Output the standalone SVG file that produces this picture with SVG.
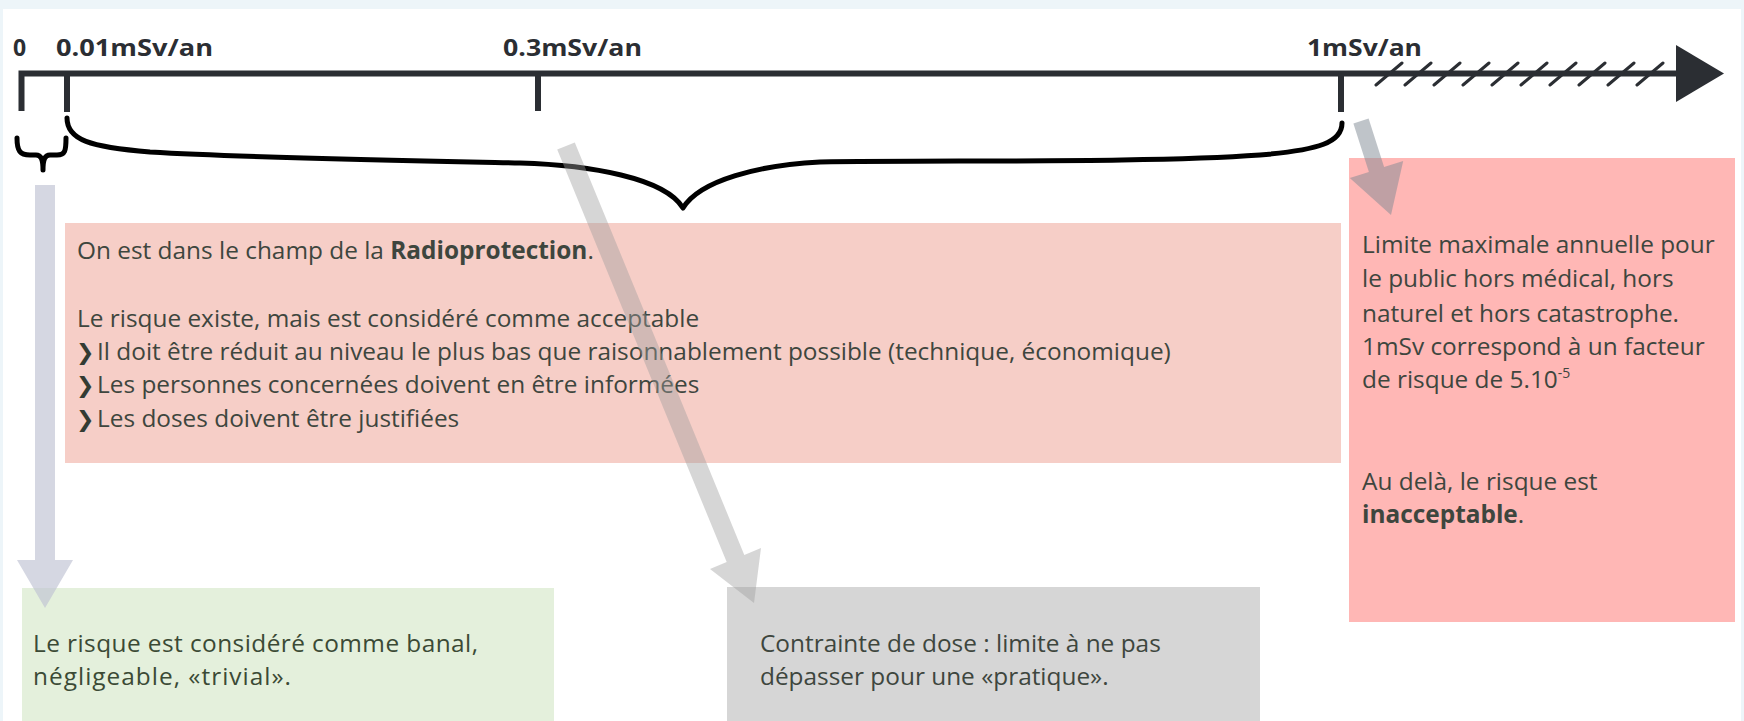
<svg xmlns="http://www.w3.org/2000/svg" width="1744" height="721" viewBox="0 0 1744 721">
<style>
.body{font-family:"Open Sans","Liberation Sans",sans-serif;font-size:24.4px;fill:#3e463e}
.b{font-weight:bold}
.lbl{font-family:"Open Sans","Liberation Sans",sans-serif;font-size:23px;font-weight:bold;fill:#2b2e33}
.bul{font-family:"DejaVu Sans",sans-serif;font-size:22px;font-weight:bold;fill:#333b33}
.axis{stroke:#2b2e33;fill:none}
.brace{stroke:#000;fill:none;stroke-width:5;stroke-linecap:round;stroke-linejoin:round}
</style>
<rect width="1744" height="721" fill="#ffffff"/>
<rect x="0" y="0" width="1744" height="9" fill="#edf5f9"/>
<rect x="0" y="0" width="3" height="721" fill="#edf5f9"/>
<rect x="1741" y="0" width="3" height="721" fill="#edf5f9"/>

<g id="axis">
  <path class="axis" stroke-width="6" d="M21.5,111 V73.5 H1680"/>
  <path class="axis" stroke-width="6" d="M67,73.5 V112 M538,73.5 V111 M1341,73.5 V112"/>
  <polygon points="1676,45 1724,73.5 1676,102" fill="#2b2e33"/>
  <g class="axis" stroke-width="3" stroke-linecap="round">
    <path d="M1376,85 L1402,63 M1405,85 L1431,63 M1434,85 L1460,63 M1463,85 L1489,63 M1492,85 L1518,63 M1521,85 L1547,63 M1550,85 L1576,63 M1579,85 L1605,63 M1608,85 L1634,63 M1637,85 L1663,63"/>
  </g>
  <text class="lbl" x="13" y="56">0</text>
  <text class="lbl" x="56" y="56" textLength="157" lengthAdjust="spacingAndGlyphs">0.01mSv/an</text>
  <text class="lbl" x="503" y="56" textLength="139" lengthAdjust="spacingAndGlyphs">0.3mSv/an</text>
  <text class="lbl" x="1307" y="56" textLength="115" lengthAdjust="spacingAndGlyphs">1mSv/an</text>
</g>

<g id="box-radioprotection">
  <rect x="65" y="223" width="1276" height="240" fill="#f6cec7"/>
  <text class="body" x="77" y="259">On est dans le champ de la <tspan class="b">Radioprotection</tspan>.</text>
  <text class="body" x="77" y="327">Le risque existe, mais est considéré comme acceptable</text>
  <text class="bul" x="76" y="360">❯</text>
  <text class="body" x="97" y="360">Il doit être réduit au niveau le plus bas que raisonnablement possible (technique, économique)</text>
  <text class="bul" x="76" y="393">❯</text>
  <text class="body" x="97" y="393">Les personnes concernées doivent en être informées</text>
  <text class="bul" x="76" y="427">❯</text>
  <text class="body" x="97" y="427">Les doses doivent être justifiées</text>
</g>

<g id="box-limite">
  <rect x="1349" y="158" width="386" height="464" fill="#ffb7b5"/>
  <text class="body" x="1362" y="253">Limite maximale annuelle pour</text>
  <text class="body" x="1362" y="287">le public hors médical, hors</text>
  <text class="body" x="1362" y="322">naturel et hors catastrophe.</text>
  <text class="body" x="1362" y="355">1mSv correspond à un facteur</text>
  <text class="body" x="1362" y="388">de risque de 5.10<tspan font-size="14" dy="-10">-5</tspan></text>
  <text class="body" x="1362" y="490">Au delà, le risque est</text>
  <text class="body" x="1362" y="523"><tspan class="b">inacceptable</tspan>.</text>
</g>

<g id="box-trivial">
  <rect x="22" y="588" width="532" height="133" fill="#e4f0dc"/>
  <text class="body" x="33" y="652" style="fill:#3b4a35" textLength="445">Le risque est considéré comme banal,</text>
  <text class="body" x="33" y="685" style="fill:#3b4a35" textLength="258">négligeable, «trivial».</text>
</g>

<g id="box-contrainte">
  <rect x="727" y="587" width="533" height="134" fill="#d6d6d6"/>
  <text class="body" x="760" y="652">Contrainte de dose : limite à ne pas</text>
  <text class="body" x="760" y="685">dépasser pour une «pratique».</text>
</g>

<g id="connectors">
  <path class="brace" d="M17,138 C17,151 20,155 30,155 L36,155 C41,155 43,159 43,170 C43,159 45,155 50,155 L57,155 C65,155 66,151 66,138"/>
  <path class="brace" d="M67,118 C67,140 90,147 150,152 C250,158 420,161 520,163 C590,165 665,178 683,208 C700,180 760,165 820,162 C950,160 1150,163 1260,155 C1320,150 1342,142 1342,123"/>
  <polygon points="35,185 55,185 55,560 73,560 45,608 17,560 35,560" fill="#bfc1d2" fill-opacity="0.65"/>
  <polygon points="574.8,142.4 744.3,554.9 761,548 754,603 710,569 726.7,562.1 557.2,149.6" fill="#9e9e9e" fill-opacity="0.42"/>
  <polygon points="1368.6,118.6 1384.1,167.1 1403.2,161 1391,215 1349.8,178 1368.9,171.9 1353.4,123.4" fill="#7f8a94" fill-opacity="0.5"/>
</g>
</svg>
